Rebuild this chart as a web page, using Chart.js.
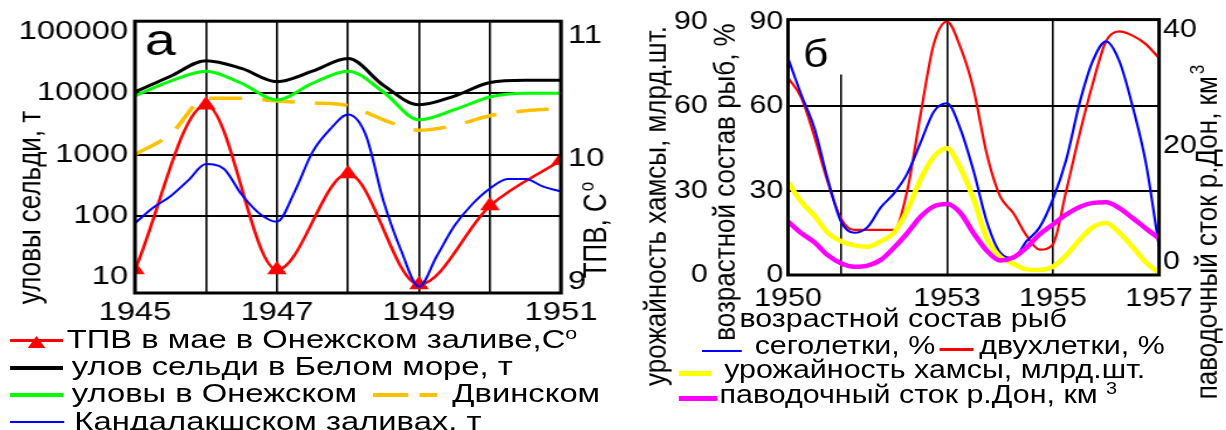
<!DOCTYPE html>
<html>
<head>
<meta charset="utf-8">
<title>Уловы сельди и возрастной состав рыб</title>
<script src="https://cdn.jsdelivr.net/npm/chart.js@4.4.1/dist/chart.umd.min.js"></script>
<style>
  body { margin: 0; width: 1226px; height: 430px; overflow: hidden; background: #fff; position: relative;
         font-family: "Liberation Sans", Arial, sans-serif; color: #000; }
  .panel { position: absolute; top: 0; height: 430px; transform-origin: 0 0; }
  #panelA { left: 0; width: 508px; transform: scaleX(1.26); }
  #panelB { left: 640px; width: 501px; transform: scaleX(1.17); }
  .panel canvas { position: absolute; left: 0; top: 0; }
  .txt { position: absolute; font-size: 26px; line-height: 30px; height: 30px; white-space: nowrap; }
  .txt .sp { font-size: 17px; position: relative; top: -9px; }
  .smp { position: absolute; }
</style>
</head>
<body>

<div id="panelA" class="panel">
  <canvas id="chartA" width="508" height="430"></canvas>
  <div class="smp" style="left:8px;top:339px;width:42px;height:3px;background:#f00"></div>
  <div class="smp" style="left:22px;top:336px;width:0;height:0;border-left:7.5px solid transparent;border-right:7.5px solid transparent;border-bottom:12px solid #f00"></div>
  <div class="txt" style="left:53px;top:324px">ТПВ в мае в Онежском заливе,С<span class="sp">o</span></div>
  <div class="smp" style="left:8px;top:366px;width:42px;height:4px;background:#000"></div>
  <div class="txt" style="left:57px;top:351px">улов сельди в Белом море, т</div>
  <div class="smp" style="left:8px;top:393px;width:42px;height:4px;background:#00ff00"></div>
  <div class="txt" style="left:57px;top:378px">уловы в Онежском</div>
  <div class="smp" style="left:296px;top:393px;width:28px;height:4px;background:#ffc000"></div>
  <div class="smp" style="left:333px;top:393px;width:14px;height:4px;background:#ffc000"></div>
  <div class="txt" style="left:359px;top:378px">Двинском</div>
  <div class="smp" style="left:8px;top:421px;width:43px;height:2px;background:#00f"></div>
  <div class="txt" style="left:59px;top:406px">Кандалакшском заливах, т</div>
</div>

<div id="panelB" class="panel">
  <canvas id="chartB" width="501" height="430"></canvas>
  <div class="txt" style="left:85px;top:303px">возрастной состав рыб</div>
  <div class="smp" style="left:53px;top:350px;width:34px;height:2px;background:#00f"></div>
  <div class="txt" style="left:98px;top:330px">сеголетки, %</div>
  <div class="smp" style="left:256px;top:348px;width:29px;height:3px;background:#f00"></div>
  <div class="txt" style="left:290px;top:330px">двухлетки, %</div>
  <div class="smp" style="left:33px;top:371px;width:28px;height:5px;background:#ffff00"></div>
  <div class="txt" style="left:72px;top:354px">урожайность хамсы, млрд.шт.</div>
  <div class="smp" style="left:33px;top:396px;width:33px;height:5px;background:#ff00ff"></div>
  <div class="txt" style="left:68px;top:379px">паводочный сток р.Дон, км <span class="sp">3</span></div>
</div>

<script>
// ---- панель а: 1945-1951 ----
const yearsA = [1945, 1945.5, 1946, 1946.5, 1947, 1947.5, 1948, 1948.5, 1949, 1949.5, 1950, 1950.5, 1951];
const catchWhiteSea = [10500, 19000, 34000, 25500, 15500, 23000, 37000, 13500, 6500, 9000, 15000, 16300, 16300];
const catchOnega = [9100, 15800, 23000, 14600, 7800, 14600, 23000, 10500, 3700, 5400, 8700, 10000, 10000];
const catchDvina = [1000, 2150, 8300, 8300, 7500, 7000, 6300, 3700, 2500, 3000, 4300, 5200, 5600];

const yearsAq = [1945, 1945.25, 1945.5, 1945.75, 1946, 1946.25, 1946.5, 1946.75, 1947, 1947.25, 1947.5, 1947.75,
                 1948, 1948.25, 1948.5, 1948.75, 1949, 1949.25, 1949.5, 1949.75, 1950, 1950.25, 1950.5, 1950.75, 1951];
const catchKandalaksha = [76, 135, 210, 380, 700, 590, 225, 110, 80, 250, 1100, 2600,
                          4500, 2100, 175, 27, 7, 22, 69, 155, 280, 400, 400, 300, 250];

const tpvYears = [1945, 1946, 1947, 1948, 1949, 1950, 1951];
const tpvMay = [9.10, 10.44, 9.10, 9.88, 8.98, 9.62, 9.99];

const gridYearsA = [1945, 1946, 1947, 1948, 1949, 1950, 1951];
const xLabelsA = [1945, 1947, 1949, 1951];
const catchTicks = [10, 100, 1000, 10000, 100000];
const tpvTicks = [9, 10, 11];

// ---- панель б: 1950-1957 ----
const yearsB = [1950, 1950.25, 1950.5, 1950.75, 1951, 1951.25, 1951.5, 1951.75, 1952, 1952.25, 1952.5, 1952.75,
                1953, 1953.25, 1953.5, 1953.75, 1954, 1954.25, 1954.5, 1954.75, 1955, 1955.25, 1955.5, 1955.75,
                1956, 1956.25, 1956.5, 1956.75, 1957];
const yearlings = [77, 64, 52, 34, 19, 15, 17, 24, 29, 36, 47, 58,
                   61, 52, 37, 19, 8, 6, 12, 17, 27, 41, 61, 76,
                   83, 76, 60, 40, 10];
const twoYearOlds = [70, 63, 49, 33, 20, 16, 16, 16, 16, 30, 57, 82,
                     90, 81, 66, 43, 28, 22, 14, 9, 11, 30, 50, 68,
                     83, 86.5, 85, 82, 77];
const anchovyYield = [33, 26, 21, 15, 12, 10.5, 10, 12, 15, 23, 34, 42,
                      45, 38, 27, 13, 6.5, 4, 2, 1.8, 3, 7, 12.5, 17,
                      18.5, 15, 10, 4.5, 0.7];
const donRunoff = [7, 5, 3.4, 1.2, -0.2, -0.8, -0.6, 0.4, 2.5, 5, 7.8, 9.6,
                   10, 8.5, 5, 2, 0.3, 0.8, 2.5, 4.8, 6.5, 8.2, 9.5, 10.2,
                   10.3, 9.3, 7.6, 5.8, 4.1];

const gridYearsB = [1950, 1951, 1953, 1955, 1957];
const xLabelsB = [1950, 1953, 1955, 1957];
const percentTicks = [0, 30, 60, 90];
const runoffTicks = [0, 20, 40];

const FONT = '"Liberation Sans", Arial, sans-serif';
Chart.defaults.font.family = FONT;
Chart.defaults.font.size = 26;
Chart.defaults.color = '#000';

function pts(xs, ys) {
    return xs.map((x, i) => ({ x: x, y: ys[i] }));
}

function setTicks(list) {
    return scale => { scale.ticks = list.map(v => ({ value: v })); };
}

// vertical text, reads bottom to top, centred on (cx, cy)
function vText(ctx, str, sup, cx, cy) {
    ctx.save();
    ctx.translate(cx, cy);
    ctx.rotate(-Math.PI / 2);
    ctx.fillStyle = '#000';
    ctx.textBaseline = 'middle';
    ctx.textAlign = 'left';
    ctx.font = '26px ' + FONT;
    const w = ctx.measureText(str).width;
    let sw = 0;
    if (sup) {
        ctx.font = '17px ' + FONT;
        sw = ctx.measureText(sup).width + 2;
        ctx.font = '26px ' + FONT;
    }
    const x0 = -(w + sw) / 2;
    ctx.fillText(str, x0, 0);
    if (sup) {
        ctx.font = '17px ' + FONT;
        ctx.fillText(sup, x0 + w + 2, -8);
    }
    ctx.restore();
}

const frame = {
    id: 'frame',
    afterDatasetsDraw(chart) {
        const { ctx, chartArea: a } = chart;
        ctx.save();
        ctx.strokeStyle = '#000';
        ctx.lineWidth = 3;
        ctx.strokeRect(a.left, a.top, a.right - a.left, a.bottom - a.top);
        ctx.restore();
    }
};

const hideEdge = edges => c => (c.tick && edges.includes(c.tick.value)) ? 'rgba(0,0,0,0)' : '#000';

// ---------- chart а ----------
new Chart(document.getElementById('chartA'), {
    type: 'line',
    data: {
        datasets: [
            { data: pts(yearsA, catchWhiteSea), borderColor: '#000', borderWidth: 3, yAxisID: 'y' },
            { data: pts(yearsA, catchOnega), borderColor: '#00ff00', borderWidth: 3, yAxisID: 'y' },
            { data: pts(yearsA, catchDvina), borderColor: '#ffc000', borderWidth: 3.5, borderDash: [26, 16], yAxisID: 'y' },
            { data: pts(yearsAq, catchKandalaksha), borderColor: '#0000ff', borderWidth: 2, yAxisID: 'y' },
            { data: pts(tpvYears, tpvMay), borderColor: '#ff0000', borderWidth: 2.5, yAxisID: 'yTemp',
              pointRadius: 9, pointStyle: 'triangle', pointBackgroundColor: '#ff0000', pointBorderColor: '#ff0000', pointBorderWidth: 0 }
        ]
    },
    options: {
        responsive: false,
        animation: false,
        events: [],
        layout: { padding: { top: 17, left: 0, right: 0, bottom: 0 } },
        elements: { line: { cubicInterpolationMode: 'monotone', fill: false }, point: { radius: 0 } },
        plugins: { legend: { display: false }, tooltip: { enabled: false } },
        scales: {
            x: {
                type: 'linear', min: 1945, max: 1951,
                afterBuildTicks: setTicks(gridYearsA),
                afterFit: s => { s.height = 137; },
                ticks: { padding: 4, maxRotation: 0, autoSkip: false,
                         callback: v => xLabelsA.includes(v) ? String(v) : '' },
                grid: { color: '#000', lineWidth: 1.6, drawTicks: false },
                border: { display: false }
            },
            y: {
                type: 'logarithmic', position: 'left', min: 5.53, max: 150000,
                afterBuildTicks: setTicks(catchTicks),
                afterFit: s => { s.width = 107.1; },
                ticks: { padding: 5.5, callback: v => String(v) },
                grid: { color: hideEdge([10, 100000]), lineWidth: 2, drawTicks: false },
                border: { display: false }
            },
            yTemp: {
                type: 'linear', position: 'right', min: 8.912, max: 11.12,
                afterBuildTicks: setTicks(tpvTicks),
                afterFit: s => { s.width = 62.8; },
                ticks: { padding: 5.6, callback: v => String(v) },
                grid: { display: false, drawTicks: false },
                border: { display: false }
            }
        }
    },
    plugins: [frame, {
        id: 'textsA',
        afterDraw(chart) {
            const ctx = chart.ctx;
            vText(ctx, 'уловы сельди, т', '', 24.6, 207.5);
            vText(ctx, 'ТПВ, С', 'o', 474, 230);
            ctx.save();
            ctx.font = '44px ' + FONT;
            ctx.fillStyle = '#000';
            ctx.fillText('а', 115, 55);
            ctx.restore();
        }
    }]
});

// ---------- chart б ----------
new Chart(document.getElementById('chartB'), {
    type: 'line',
    data: {
        datasets: [
            { data: pts(yearsB, donRunoff), borderColor: '#ff00ff', borderWidth: 4.5, yAxisID: 'yRunoff' },
            { data: pts(yearsB, anchovyYield), borderColor: '#ffff00', borderWidth: 4.5, yAxisID: 'yYield' },
            { data: pts(yearsB, yearlings), borderColor: '#0000ff', borderWidth: 2.2, yAxisID: 'y' },
            { data: pts(yearsB, twoYearOlds), borderColor: '#ff0000', borderWidth: 2.2, yAxisID: 'y' }
        ]
    },
    options: {
        responsive: false,
        animation: false,
        events: [],
        layout: { padding: { top: 18, left: 0, right: 0, bottom: 0 } },
        elements: { line: { cubicInterpolationMode: 'monotone', fill: false }, point: { radius: 0 } },
        plugins: { legend: { display: false }, tooltip: { enabled: false } },
        scales: {
            x: {
                type: 'linear', min: 1950, max: 1957,
                afterBuildTicks: setTicks(gridYearsB),
                afterFit: s => { s.height = 155; },
                ticks: { padding: 8, maxRotation: 0, autoSkip: false,
                         callback: v => xLabelsB.includes(v) ? String(v) : '' },
                grid: { color: '#000', lineWidth: 1.6, drawTicks: false },
                border: { display: false }
            },
            y: {
                type: 'linear', position: 'left', weight: 1, min: 0, max: 90.7,
                afterBuildTicks: setTicks(percentTicks),
                afterFit: s => { s.width = 64.5; },
                ticks: { padding: 4 },
                grid: { color: hideEdge([0, 90]), lineWidth: 2, drawTicks: false },
                border: { display: false }
            },
            yYield: {
                type: 'linear', position: 'left', weight: 2, min: 0, max: 90.7,
                afterBuildTicks: setTicks(percentTicks),
                afterFit: s => { s.width = 62; },
                ticks: { padding: 4 },
                grid: { display: false, drawTicks: false },
                border: { display: false }
            },
            yRunoff: {
                type: 'linear', position: 'right', min: -2.2, max: 41.7,
                afterBuildTicks: setTicks(runoffTicks),
                afterFit: s => { s.width = 57.4; },
                ticks: { padding: 3.5 },
                grid: { display: false, drawTicks: false },
                border: { display: false }
            }
        }
    },
    plugins: [frame, {
        id: 'textsB',
        beforeDatasetsDraw(chart) {
            const ctx = chart.ctx;
            ctx.save();
            ctx.fillStyle = '#fff';
            ctx.fillRect(136.8, 19.5, 41, 55);
            ctx.font = '38px ' + FONT;
            ctx.fillStyle = '#000';
            ctx.fillText('б', 139.3, 67);
            ctx.restore();
        },
        afterDraw(chart) {
            const ctx = chart.ctx;
            vText(ctx, 'урожайность хамсы, млрд.шт.', '', 14.5, 206);
            vText(ctx, 'возрастной состав рыб, %', '', 73.5, 182);
            vText(ctx, 'паводочный сток р.Дон, км', '3', 485.5, 232);
        }
    }]
});
</script>
</body>
</html>
